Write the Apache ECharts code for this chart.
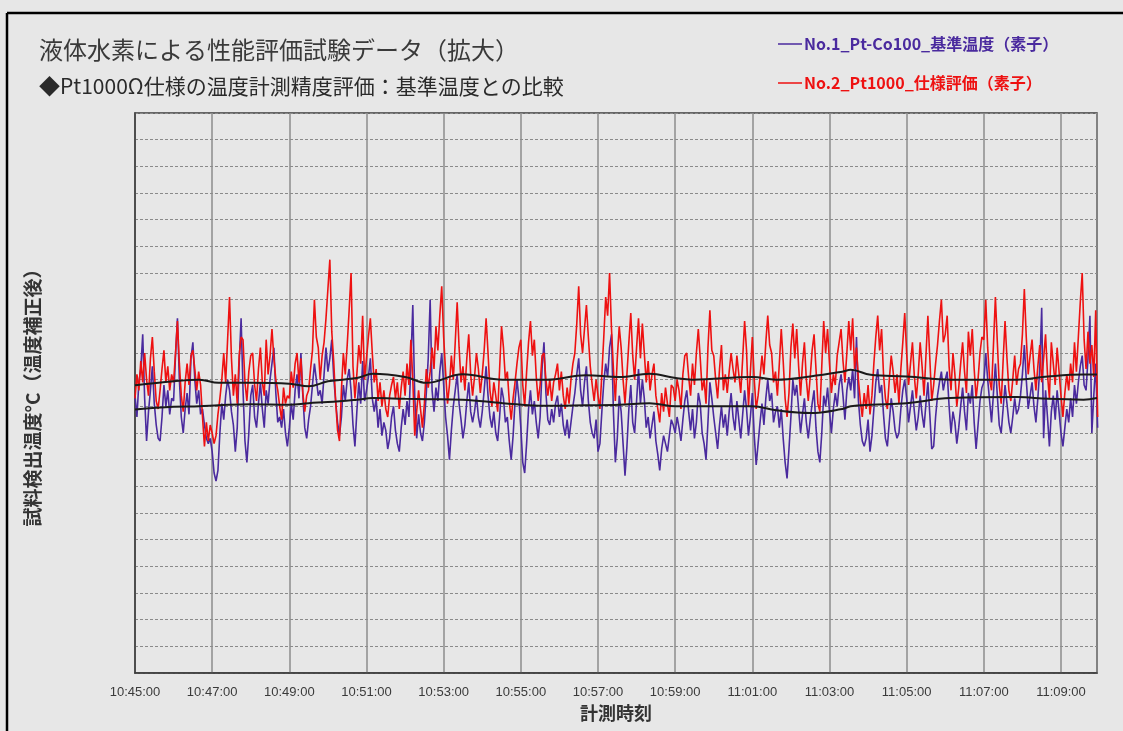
<!DOCTYPE html>
<html><head><meta charset="utf-8">
<script src="https://cdn.jsdelivr.net/npm/echarts@6/dist/echarts.min.js"></script>
<style>html,body{margin:0;padding:0;background:#e7e7e7;}#c{width:1123px;height:731px;}</style>
</head><body><div id="c"></div>
<script>
// Sampling: one reading every 3 s starting at 10:45:00 (x in seconds from 10:45:00)
const SAMPLE_STEP = 3;
const xTickLabels = ['10:45:00','10:47:00','10:49:00','10:51:00','10:53:00','10:55:00','10:57:00','10:59:00','11:01:00','11:03:00','11:05:00','11:07:00','11:09:00'];

// No.1_Pt-Co100_基準温度（素子） (y in grid divisions, axis labels hidden)
const no1 = [
10.4,9.6,10.9,11.4,12.7,10.3,8.7,9.8,10.6,11.5,10.1,9.3,8.8,8.7,9.6,10.8,10.0,10.6,9.7,10.3,
10.2,11.9,13.3,11.0,9.6,9.0,9.9,10.5,9.7,11.8,12.4,11.0,10.1,10.6,9.7,9.9,9.3,8.8,8.6,8.8,
8.3,7.5,7.2,7.6,9.0,10.1,9.5,10.4,11.0,10.6,9.8,9.3,8.3,9.2,11.6,13.3,10.6,8.7,7.9,9.0,
10.4,10.8,9.6,9.2,10.1,10.9,9.9,9.2,10.6,10.1,11.0,11.6,12.2,10.5,9.4,9.6,9.2,9.9,9.0,8.5,
9.2,10.1,9.5,10.6,11.2,10.3,12.0,10.4,9.2,8.8,9.5,10.0,10.8,11.6,11.0,10.4,10.6,10.1,11.2,12.2,
11.3,11.8,12.5,11.1,10.2,9.4,8.9,9.6,10.8,10.2,11.0,11.4,10.6,9.3,8.5,9.8,10.9,10.1,11.7,10.2,
10.6,11.1,11.8,10.3,9.8,10.3,9.2,9.9,8.9,9.4,9.1,8.4,8.8,9.6,10.0,9.1,8.6,8.3,9.2,9.9,
9.3,10.2,9.6,11.6,13.8,10.4,8.8,9.7,9.0,8.7,9.4,10.5,11.8,14.0,10.6,9.8,10.7,10.2,11.3,12.0,
10.8,9.6,8.9,8.0,9.1,10.0,10.6,11.2,10.1,9.5,8.8,9.3,10.2,10.9,9.8,9.4,9.8,10.4,9.6,9.2,
9.8,10.6,11.5,10.4,9.6,9.2,9.8,9.0,8.7,9.6,10.7,10.3,9.4,9.6,8.7,8.0,8.9,10.2,11.0,10.3,
9.2,7.9,7.5,8.6,9.9,10.6,9.7,10.2,9.4,8.8,9.6,11.4,12.4,10.5,9.5,9.3,9.9,9.4,10.1,10.4,
9.6,10.1,9.3,8.9,9.5,8.8,9.4,10.0,10.5,11.2,11.8,10.6,10.0,10.9,11.5,10.2,9.4,9.0,8.8,9.5,
8.3,8.6,9.8,10.9,11.6,11.1,12.2,12.7,9.8,7.9,8.8,10.4,9.8,8.6,7.4,8.5,9.9,10.8,9.4,9.0,
10.2,11.4,10.1,11.0,10.3,9.2,9.6,8.8,9.3,9.8,8.7,8.2,7.6,8.4,8.9,8.6,8.3,8.9,9.5,9.3,
9.0,9.6,9.2,8.7,9.5,10.2,10.6,9.8,9.1,9.9,8.8,9.4,10.5,10.1,9.0,8.6,8.0,9.4,10.9,10.3,
9.6,9.0,8.4,9.3,10.0,9.2,9.7,8.9,9.8,10.5,9.6,9.1,10.2,9.5,8.8,9.7,10.6,9.9,8.9,9.6,
10.5,8.9,7.8,8.6,9.4,10.1,9.3,10.3,11.0,10.2,10.5,9.4,9.8,10.0,9.2,9.9,8.8,7.9,7.3,8.4,
9.6,11.0,10.4,10.8,9.9,9.0,9.7,10.3,9.4,8.8,9.5,10.1,10.6,9.2,8.3,7.9,9.0,10.4,10.0,10.7,
9.8,9.0,9.9,10.5,10.0,10.8,11.2,10.4,9.5,10.6,11.1,10.6,11.4,10.3,12.6,10.2,9.3,8.7,8.5,8.8,
9.5,8.3,8.9,9.9,10.9,11.4,10.5,10.8,9.7,8.8,8.5,9.4,10.3,9.8,9.1,8.8,9.0,9.9,10.6,11.0,
10.3,9.4,10.0,10.6,9.8,9.1,9.6,10.4,9.7,9.2,10.1,10.9,9.7,8.4,8.5,9.6,10.4,10.9,11.3,10.6,
11.0,11.3,10.0,9.0,9.8,9.4,8.6,9.2,10.0,10.7,9.8,9.1,10.5,10.1,10.8,9.4,8.4,9.3,10.2,10.7,
10.9,12.0,11.0,10.2,9.4,10.5,11.6,10.4,9.3,9.0,9.9,10.8,10.1,9.4,9.0,9.6,10.3,9.7,9.9,10.4,
11.2,12.3,11.0,9.9,10.4,10.9,10.0,9.4,10.3,11.4,13.7,8.8,10.6,9.6,8.5,9.8,10.4,9.5,10.6,9.8,
9.0,8.5,9.2,9.9,9.4,10.3,9.6,10.8,10.1,10.9,11.5,11.9,10.8,10.6,11.8,13.4,9.0,10.4,11.6,9.2
];

// No.2_Pt1000_仕様評価（素子）
const no2 = [
10.3,11.2,10.6,11.7,10.9,12.0,11.0,10.4,11.8,12.6,11.3,10.2,9.9,10.6,11.4,12.1,10.9,11.5,10.6,11.2,
10.9,12.0,13.2,11.6,10.4,9.8,10.9,11.6,10.8,11.9,12.1,11.4,10.6,11.3,10.8,9.6,8.5,9.4,8.7,9.3,
9.0,8.6,8.9,9.7,10.3,11.0,12.0,10.9,12.5,14.1,11.8,10.4,11.2,10.1,11.9,12.6,12.5,10.9,10.2,11.3,
11.9,12.0,10.8,10.2,11.4,12.2,10.9,10.4,12.5,11.2,11.9,12.9,11.8,11.0,10.6,10.0,9.5,10.7,10.1,10.4,
10.3,11.3,10.7,11.6,12.0,10.9,11.8,10.5,9.8,10.4,10.6,11.4,12.1,14.0,12.6,12.2,11.0,11.9,12.4,13.3,
14.4,15.5,12.8,11.7,10.2,9.1,8.7,10.6,12.0,11.2,12.3,13.6,15.0,11.5,10.3,11.2,12.3,11.6,13.4,11.0,
11.8,12.6,13.3,12.0,10.9,11.4,10.2,10.9,10.0,10.6,9.9,9.6,10.4,10.8,11.1,10.3,10.9,9.9,10.7,11.3,
10.4,11.6,10.8,12.5,11.0,8.9,9.8,10.6,9.9,9.2,10.1,11.4,10.7,11.3,12.2,11.4,13.0,12.1,13.4,14.5,
12.6,11.3,10.1,10.8,11.9,11.0,12.4,13.9,12.2,10.9,11.5,10.6,11.8,12.7,11.2,10.4,11.1,12.0,11.4,10.5,
11.2,12.1,13.3,12.0,10.6,10.0,10.9,10.4,9.8,11.4,13.0,12.2,11.0,11.3,10.2,9.5,10.3,10.9,11.6,12.2,
12.5,10.8,10.0,11.3,12.4,13.2,11.9,12.5,11.1,10.2,10.8,11.9,12.0,11.0,10.4,11.0,10.2,10.9,11.2,11.6,
10.6,11.3,10.4,9.9,10.7,10.1,11.0,11.6,12.0,13.1,14.5,12.7,12.0,12.9,13.8,12.6,11.5,10.8,10.2,11.0,
10.4,9.9,11.2,12.6,14.1,13.4,15.0,12.9,11.4,10.2,11.8,13.0,12.2,11.0,10.1,11.2,12.4,13.5,11.9,11.0,
12.2,13.3,11.8,13.1,12.0,10.9,11.7,10.6,11.2,11.6,10.4,9.9,9.4,10.5,9.8,10.7,10.1,9.6,10.8,10.7,
10.2,11.0,10.6,9.9,11.2,11.9,12.0,11.1,10.4,11.6,10.8,12.0,12.9,11.8,10.6,11.0,10.1,12.2,13.6,12.1,
11.9,11.0,10.3,11.4,12.3,10.6,11.2,10.5,11.3,12.0,11.4,10.9,11.9,11.2,10.5,11.8,13.2,12.1,10.0,11.3,
12.6,11.0,9.9,10.4,11.1,11.9,11.2,12.4,13.4,12.3,12.0,10.9,11.3,10.4,11.6,12.9,11.7,10.3,9.6,10.5,
12.2,13.1,11.8,12.9,11.5,10.4,11.6,12.4,11.0,10.2,11.1,12.1,12.7,11.4,10.1,9.8,11.5,13.2,12.0,12.9,
11.6,10.5,11.2,10.8,11.9,12.4,12.9,11.7,10.9,12.0,13.2,12.1,13.3,11.4,12.2,11.0,10.2,9.6,10.5,9.9,
10.8,9.7,10.4,11.6,12.6,13.4,12.1,12.9,11.2,10.3,9.9,11.0,11.9,11.3,10.5,11.2,10.1,11.4,12.4,13.5,
12.0,10.8,11.6,12.4,11.1,10.3,11.2,12.4,11.5,10.4,11.9,13.4,11.8,10.2,10.8,11.6,12.3,13.2,14.0,12.4,
12.7,13.4,11.5,10.6,12.0,11.2,10.0,10.7,11.6,12.4,11.3,10.5,12.8,11.9,12.9,11.4,10.3,11.0,12.0,12.6,
12.5,14.0,12.2,11.0,10.6,12.3,14.1,12.4,10.8,10.1,11.7,13.2,11.8,10.6,10.2,11.0,11.9,10.8,11.4,11.6,
12.7,14.4,12.6,11.2,11.9,12.5,11.4,10.6,11.5,12.3,10.9,11.8,12.7,11.2,10.3,12.4,11.6,10.8,12.2,11.3,
10.4,9.6,10.5,11.2,10.6,11.6,10.9,12.4,11.3,12.6,13.9,15.0,12.5,11.4,12.8,11.6,12.3,11.1,13.6,9.6
];

// Moving-average trend lines (black), read at these times (s from 10:45:00)
const trendTimes = [0,60,100,130,180,240,270,300,345,370,420,453,510,572,640,701,753,800,841,867,960,997,1050,1100,1113,1144,1200,1268,1372,1420,1475,1496];
const trendNo2 = [10.79,10.94,11.0,10.88,10.88,10.85,10.75,10.94,11.06,11.22,11.1,10.88,11.2,11.0,11.0,11.17,11.1,11.22,11.06,11.0,11.1,11.0,11.12,11.3,11.37,11.18,11.12,11.0,11.0,11.12,11.19,11.19];
const trendNo1 = [9.88,9.98,10.0,10.04,10.08,10.06,10.12,10.16,10.25,10.31,10.28,10.27,10.25,10.12,10.02,10.04,10.06,10.12,10.0,10.0,10.0,9.85,9.75,9.9,10.0,10.06,10.12,10.31,10.35,10.28,10.25,10.31];

const NAME1 = 'No.1_Pt-Co100_基準温度（素子）';
const NAME2 = 'No.2_Pt1000_仕様評価（素子）';
const PURPLE = '#4a2a9e';
const RED = '#ee1111';

function pair(arr){ return arr.map((v,i)=>[i*SAMPLE_STEP, v]); }
function pairT(ts, vs){ return ts.map((t,i)=>[t, vs[i]]); }

const chart = echarts.init(document.getElementById('c'), null, {renderer:'canvas'});
const CJK = '"Noto Sans CJK JP", "Noto Sans", sans-serif';
chart.setOption({
  backgroundColor:'#e7e7e7',
  animation:false,
  title:[
    {text:'液体水素による性能評価試験データ（拡大）', left:34, top:33, textStyle:{fontFamily:CJK, fontSize:24, fontWeight:'normal', color:'#3a3a3a'}},
    {text:'◆Pt1000Ω仕様の温度計測精度評価：基準温度との比較', left:34, top:71, textStyle:{fontFamily:CJK, fontSize:21, fontWeight:'normal', color:'#2a2a2a'}}
  ],
  legend:{
    orient:'vertical', left:773, top:31, itemGap:23,
    icon:'rect', itemWidth:24, itemHeight:1.5,
    textStyle:{fontFamily:CJK, fontSize:16, fontWeight:'bold', padding:[0,0,0,-3]},
    data:[
      {name:NAME1, textStyle:{color:PURPLE}},
      {name:NAME2, textStyle:{color:RED}}
    ]
  },
  grid:{left:135, right:26, top:113, bottom:58, show:true, borderColor:'#3c3c3c', borderWidth:1.5, backgroundColor:'transparent'},
  xAxis:{
    type:'value', min:0, max:1496, interval:120,
    name:'計測時刻', nameLocation:'middle', nameGap:31,
    nameTextStyle:{fontFamily:CJK, fontSize:18, color:'#333', fontWeight:'bold'},
    axisLine:{show:true, lineStyle:{color:'#3c3c3c', width:1.5}},
    axisTick:{show:false},
    axisLabel:{showMaxLabel:false, margin:13, fontFamily:'"Liberation Sans Narrow", "Liberation Sans", sans-serif', fontSize:13, color:'#3a3a3a',
      formatter:v=>{ const i=Math.round(v/120); return (v%120===0 && i<xTickLabels.length)? xTickLabels[i] : ''; }},
    splitLine:{show:true, lineStyle:{color:'#8c8c8c', width:1.5, type:'solid'}}
  },
  yAxis:{
    type:'value', min:0, max:21, interval:1,
    name:'試料検出温度°C（温度補正後）', nameLocation:'middle', nameGap:93, nameRotate:90,
    nameTextStyle:{fontFamily:CJK, fontSize:19, color:'#333', fontWeight:'bold'},
    axisLine:{show:true, lineStyle:{color:'#3c3c3c', width:1.5}},
    axisTick:{show:false},
    axisLabel:{show:false},
    splitLine:{show:true, lineStyle:{color:'#8a8a8a', width:1, type:[3,2]}}
  },
  series:[
    {name:NAME1, type:'line', data:pair(no1), showSymbol:false, symbol:'none', lineStyle:{color:PURPLE, width:1.6}, itemStyle:{color:PURPLE}, z:2},
    {name:NAME2, type:'line', data:pair(no2), showSymbol:false, symbol:'none', lineStyle:{color:RED, width:1.6}, itemStyle:{color:RED}, z:3},
    {name:'trend1', type:'line', data:pairT(trendTimes, trendNo1), smooth:0.4, showSymbol:false, symbol:'none', lineStyle:{color:'#1a1a1a', width:2}, z:4},
    {name:'trend2', type:'line', data:pairT(trendTimes, trendNo2), smooth:0.4, showSymbol:false, symbol:'none', lineStyle:{color:'#1a1a1a', width:2}, z:4}
  ],
  graphic:[
    {type:'line', shape:{x1:7, y1:13, x2:1123, y2:13}, style:{stroke:'#000', lineWidth:2.5}, silent:true},
    {type:'line', shape:{x1:7, y1:13, x2:7, y2:731}, style:{stroke:'#000', lineWidth:2.5}, silent:true}
  ]
});
</script></body></html>
